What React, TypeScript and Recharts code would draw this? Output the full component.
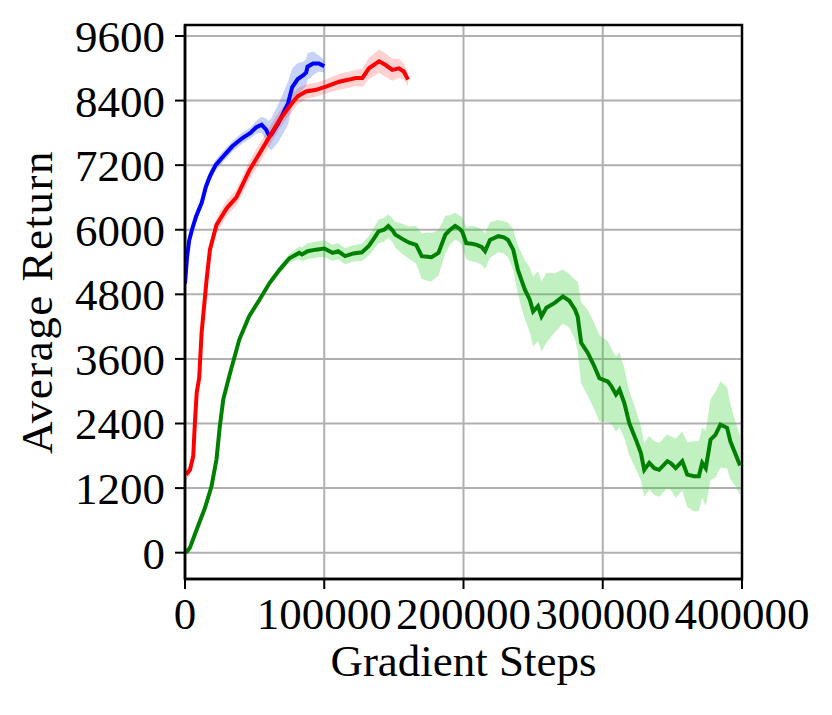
import { ComposedChart, Line, Area, XAxis, YAxis, CartesianGrid, ReferenceArea } from 'recharts';

// steps are in thousands of gradient steps
const blueSteps = [0, 1.5, 3, 5, 8, 12, 15, 18, 22, 27, 34, 41, 47, 51, 55, 58, 60, 62, 67, 74, 77, 81, 85, 87, 88, 92, 96, 100];
const blueMean = [5000, 5500, 5800, 6000, 6250, 6500, 6800, 7000, 7200, 7350, 7550, 7700, 7800, 7900, 7950, 7870, 7770, 7770, 7980, 8350, 8650, 8800, 8870, 8920, 9030, 9090, 9090, 9040];
const blueSpread = [80, 100, 100, 100, 100, 100, 100, 100, 100, 100, 100, 100, 100, 120, 150, 200, 250, 300, 350, 400, 350, 300, 250, 250, 250, 220, 150, 120];

const redSteps = [0.7, 3.6, 5.9, 7.1, 8.4, 10.2, 11.9, 15.5, 17.9, 22.6, 25, 30, 36.9, 46.4, 53.6, 60.7, 67.9, 75, 80.9, 86.9, 94.1, 101.2, 110.7, 117.9, 122.6, 127.4, 132.1, 139.3, 144.1, 148.8, 153.6, 157.1, 160.2];
const redMean = [1450, 1540, 1790, 2410, 2970, 3250, 4080, 5070, 5630, 6090, 6190, 6400, 6600, 7110, 7420, 7730, 8040, 8290, 8480, 8570, 8600, 8660, 8750, 8790, 8820, 8820, 9000, 9130, 9060, 8970, 9000, 8940, 8790];
const redSpread = [100, 100, 100, 100, 120, 120, 120, 120, 120, 120, 150, 150, 150, 180, 180, 180, 160, 150, 150, 130, 130, 130, 150, 150, 150, 170, 200, 220, 220, 200, 180, 150, 120];

const greenSteps = [0.7, 3.5, 8.4, 14.3, 19, 22.6, 25, 27.5, 32, 39, 46, 53.5, 60.7, 68, 75, 82, 84, 88, 94, 100, 106, 110, 115, 121, 127, 132, 136, 139, 143, 146, 149, 151, 156, 161, 166, 170, 174, 177, 182, 187, 190, 194, 197, 199, 202, 206, 209.5, 213, 215.5, 219, 225, 229, 232, 235.7, 239, 244, 247.6, 250, 253.5, 256, 259.5, 265.5, 271.4, 276, 280, 282, 284.5, 289.3, 294, 297.6, 303.6, 306, 309.5, 312, 315.5, 319, 323.8, 327.4, 329.8, 333.4, 337, 340.5, 346.4, 349, 352.4, 357.1, 360.7, 365.5, 369, 371.4, 374, 377.4, 380.9, 384.5, 389.3, 391.6, 395, 398.6];
const greenMean = [0, 90, 430, 830, 1230, 1730, 2350, 2850, 3300, 3960, 4390, 4700, 5010, 5260, 5470, 5570, 5540, 5600, 5630, 5650, 5570, 5600, 5510, 5560, 5580, 5700, 5850, 5970, 6000, 6070, 5990, 5910, 5830, 5760, 5720, 5510, 5500, 5490, 5570, 5910, 5990, 6070, 6020, 5970, 5750, 5740, 5720, 5680, 5600, 5810, 5880, 5860, 5810, 5630, 5260, 4890, 4700, 4480, 4580, 4390, 4550, 4640, 4760, 4680, 4520, 4390, 3900, 3710, 3460, 3240, 3180, 3100, 2940, 3030, 2780, 2410, 2100, 1850, 1540, 1670, 1570, 1540, 1700, 1660, 1570, 1700, 1450, 1420, 1420, 1670, 1570, 2100, 2190, 2380, 2320, 2070, 1850, 1620];
const greenSpread = [40, 50, 60, 60, 60, 60, 60, 60, 60, 60, 60, 60, 60, 70, 80, 120, 130, 150, 150, 150, 150, 150, 150, 150, 160, 180, 200, 220, 220, 220, 220, 240, 280, 300, 350, 420, 450, 450, 420, 350, 280, 250, 250, 260, 300, 330, 330, 330, 330, 330, 300, 300, 320, 380, 450, 550, 600, 650, 650, 650, 650, 550, 500, 500, 550, 650, 750, 800, 800, 800, 750, 700, 700, 700, 650, 600, 550, 500, 500, 500, 500, 500, 500, 500, 550, 550, 600, 650, 650, 650, 700, 750, 800, 800, 750, 700, 600, 550];

const xTicks = [0, 100000, 200000, 300000, 400000];
const yTicks = [0, 1200, 2400, 3600, 4800, 6000, 7200, 8400, 9600];

const build = (steps: number[], mean: number[], spread: number[]) =>
  steps.map((s, i) => ({ x: s * 1000, y: mean[i], band: [mean[i] - spread[i], mean[i] + spread[i]] }));

const blueData = build(blueSteps, blueMean, blueSpread);
const redData = build(redSteps, redMean, redSpread);
const greenData = build(greenSteps, greenMean, greenSpread);

const font = '"Liberation Serif", "Times New Roman", serif';
const tickStyle = { fontSize: 45, fill: '#000', fontFamily: font };

const YLabel = ({ viewBox }: any) => {
  const cx = 52;
  const cy = viewBox.y + viewBox.height / 2;
  return (
    <text x={cx} y={cy} transform={`rotate(-90, ${cx}, ${cy})`} textAnchor="middle" fontSize={45} fontFamily={font} fill="#000" letterSpacing={1.5}>
      Average Return
    </text>
  );
};

const XLabel = ({ viewBox }: any) => (
  <text x={viewBox.x + viewBox.width / 2} y={676} textAnchor="middle" fontSize={45} fontFamily={font} fill="#000">
    Gradient Steps
  </text>
);

export default function App() {
  return (
    <div style={{ position: 'absolute', left: 0, top: 0, background: '#fff' }}>
      <ComposedChart width={832} height={715} margin={{ top: 25, right: 90, bottom: 36, left: 0 }}>
        <CartesianGrid stroke="#b0b0b0" strokeWidth={2} />
        <XAxis
          type="number"
          dataKey="x"
          domain={[0, 400000]}
          ticks={xTicks}
          interval={0}
          allowDataOverflow
          height={100}
          tick={tickStyle}
          tickSize={10}
          tickMargin={8}
          tickLine={{ stroke: '#000', strokeWidth: 2 }}
          axisLine={{ stroke: '#000', strokeWidth: 2.5 }}
          label={<XLabel />}
        />
        <YAxis
          type="number"
          domain={[-489, 9804]}
          ticks={yTicks}
          interval={0}
          allowDataOverflow
          width={185}
          tick={tickStyle}
          tickSize={10}
          tickMargin={10}
          tickLine={{ stroke: '#000', strokeWidth: 2 }}
          axisLine={{ stroke: '#000', strokeWidth: 2.5 }}
          label={<YLabel />}
        />
        <Area data={blueData} dataKey="band" type="linear" stroke="none" fill="#4169e1" fillOpacity={0.3} isAnimationActive={false} activeDot={false} />
        <Line data={blueData} dataKey="y" type="linear" stroke="#0000ff" strokeWidth={4} dot={false} activeDot={false} isAnimationActive={false} />
        <Area data={redData} dataKey="band" type="linear" stroke="none" fill="#ff0000" fillOpacity={0.18} isAnimationActive={false} activeDot={false} />
        <Line data={redData} dataKey="y" type="linear" stroke="#ff0000" strokeWidth={4} dot={false} activeDot={false} isAnimationActive={false} />
        <Area data={greenData} dataKey="band" type="linear" stroke="none" fill="#32cd32" fillOpacity={0.3} isAnimationActive={false} activeDot={false} />
        <Line data={greenData} dataKey="y" type="linear" stroke="#008000" strokeWidth={4} dot={false} activeDot={false} isAnimationActive={false} />
        <ReferenceArea x1={0} x2={400000} y1={-489} y2={9804} fill="none" stroke="#000" strokeWidth={2.5} ifOverflow="visible" />
      </ComposedChart>
    </div>
  );
}
